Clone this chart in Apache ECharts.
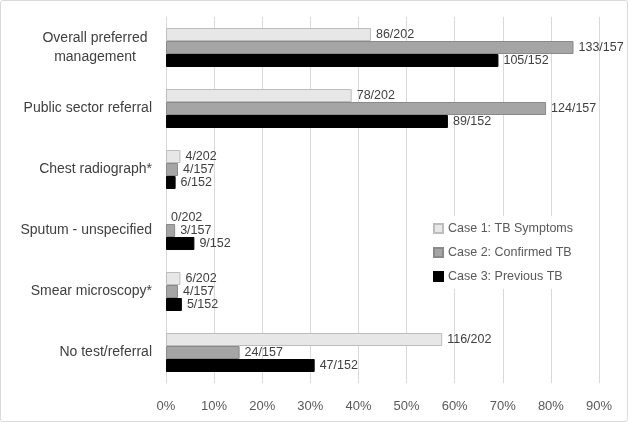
<!DOCTYPE html>
<html><head><meta charset="utf-8">
<script src="https://cdn.jsdelivr.net/npm/echarts@6/dist/echarts.min.js"></script>
<style>html,body{margin:0;padding:0;background:#fff}#c{width:626px;height:420px;border:1px solid #d9d9d9;border-radius:3px}</style>
</head><body><div id="c"></div>
<script>
const categories = ['Overall preferred\nmanagement','Public sector referral','Chest radiograph*','Sputum - unspecified','Smear microscopy*','No test/referral'];
const seriesNames = ['Case 1: TB Symptoms','Case 2: Confirmed TB','Case 3: Previous TB'];
const case1 = [42.6, 38.6, 3.0, 0, 3.0, 57.4];
const case2 = [84.7, 79.0, 2.5, 1.9, 2.5, 15.3];
const case3 = [69.1, 58.6, 2.0, 5.9, 3.3, 30.9];
const case1Labels = ['86/202','78/202','4/202','0/202','6/202','116/202'];
const case2Labels = ['133/157','124/157','4/157','3/157','4/157','24/157'];
const case3Labels = ['105/152','89/152','6/152','9/152','5/152','47/152'];
const xTicks = [0,10,20,30,40,50,60,70,80,90];

const font = "'Liberation Sans', 'Noto Sans', sans-serif";
const fills = ['#e7e7e7','#a5a5a5','#000000'];
const borders = ['#bdbdbd','#8a8a8a','#000000'];
const vals = [case1, case2, case3];
const labs = [case1Labels, case2Labels, case3Labels];

const chart = echarts.init(document.getElementById('c'));
chart.setOption({
  animation:false,
  textStyle:{fontFamily:font},
  grid:{left:165,right:28,top:16,bottom:38,containLabel:false},
  legend:{
    orient:'vertical', left:426, top:215, itemWidth:9, itemHeight:9, itemGap:11, icon:'rect',
    backgroundColor:'#fff', padding:[6,6,6,6],
    textStyle:{fontFamily:font,fontSize:12.5,color:'#595959'},
    data:seriesNames
  },
  xAxis:{
    type:'value', min:xTicks[0], max:xTicks[xTicks.length-1], interval:10,
    axisLabel:{formatter:'{value}%', color:'#595959', fontSize:13, fontFamily:font, margin:17},
    axisLine:{show:false}, axisTick:{show:false},
    splitLine:{lineStyle:{color:'#d9d9d9'}}
  },
  yAxis:{
    type:'category', inverse:true, data:categories,
    axisLine:{show:true,lineStyle:{color:'#d9d9d9'}}, axisTick:{show:false},
    axisLabel:{
      color:'#404040', fontSize:14, fontFamily:font, margin:14, lineHeight:19,
      formatter:function(v){
        if(v.indexOf('\n')>=0){return v.split('\n').map(s=>'{c|'+s+'}').join('\n');}
        return v;
      },
      rich:{c:{width:114,align:'center',fontSize:14,color:'#404040',fontFamily:font,lineHeight:19}}
    }
  },
  series: seriesNames.map((n,i)=>({
    name:n, type:'bar', barWidth:13, barGap:'0%', barCategoryGap:'36%',
    itemStyle:{color:fills[i], borderColor:borders[i], borderWidth:1},
    label:{show:true, position:'right', distance:5, color:'#404040', fontSize:12.5, fontFamily:font,
      formatter:(p)=>labs[i][p.dataIndex]},
    data: vals[i].map(v => v === 0 ? {value:v, itemStyle:{borderWidth:0}} : v)
  }))
});
</script></body></html>
